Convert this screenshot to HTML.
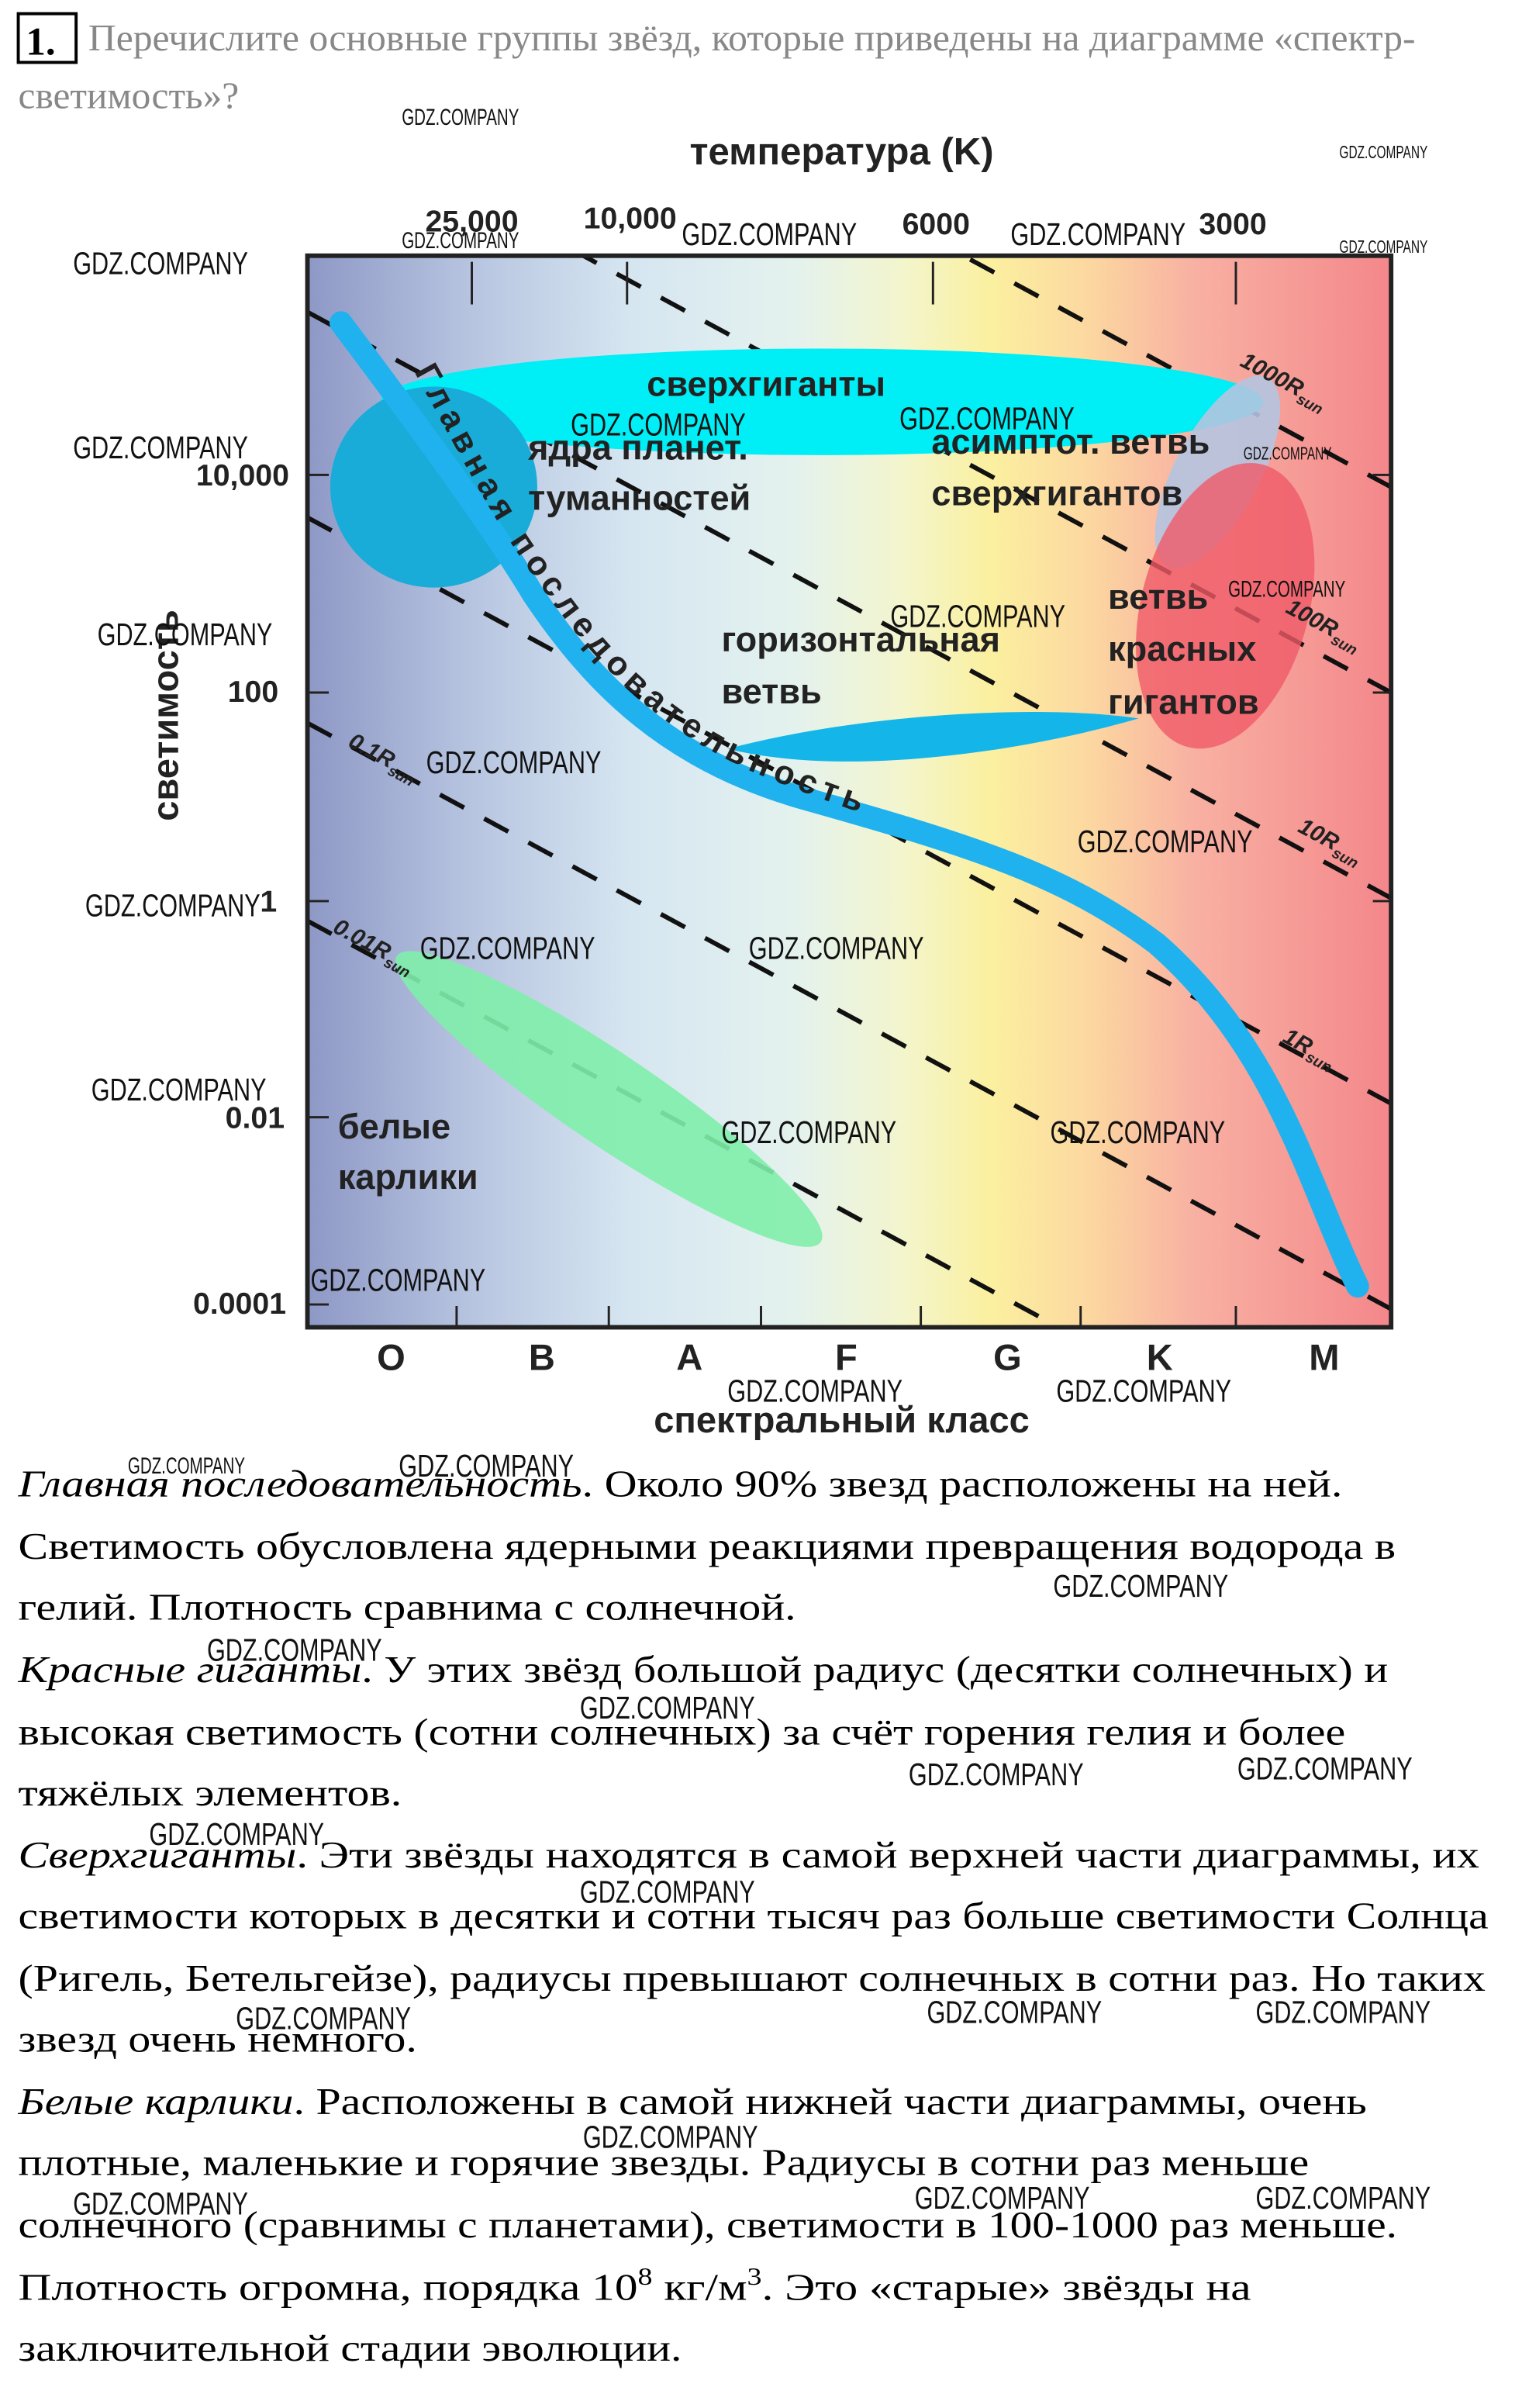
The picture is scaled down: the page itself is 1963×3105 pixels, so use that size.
<!DOCTYPE html>
<html><head><meta charset="utf-8"><style>
html,body{margin:0;padding:0;background:#fff;width:1963px;height:3105px;overflow:hidden}
svg{display:block}
.s{font-family:"Liberation Serif",serif;font-size:25px;fill:#000}
.h{font-family:"Liberation Sans",sans-serif;font-weight:bold;fill:#222}
.w{font-family:"Liberation Sans",sans-serif;font-size:21px;fill:#111}
</style></head><body>
<svg width="1963" height="3105" viewBox="0 0 1000 1582" preserveAspectRatio="none" xmlns="http://www.w3.org/2000/svg">
<defs>
<linearGradient id="bg" x1="0" x2="1" y1="0" y2="0">
<stop offset="0" stop-color="#8e98c6"/>
<stop offset="0.15" stop-color="#b7c4e0"/>
<stop offset="0.3" stop-color="#d6e6f1"/>
<stop offset="0.45" stop-color="#e4f2ee"/>
<stop offset="0.55" stop-color="#f3f5cc"/>
<stop offset="0.63" stop-color="#fbf0a0"/>
<stop offset="0.72" stop-color="#fcd8a0"/>
<stop offset="0.82" stop-color="#f8b0a2"/>
<stop offset="1" stop-color="#f4878b"/>
</linearGradient>
<clipPath id="cp"><rect x="202" y="168" width="712" height="704"/></clipPath>
<path id="ms" d="M272,244 C302,298 327,348 354,383 C392,438 432,478 492,506 C562,536 642,556 747,608"/>
</defs>

<!-- header -->
<rect x="12" y="9" width="38" height="32" fill="none" stroke="#000" stroke-width="2"/>
<text x="17" y="36" class="s" style="font-size:26px;font-weight:bold">1.</text>
<text x="58" y="33" class="s" style="fill:#888;font-size:25px" textLength="872" lengthAdjust="spacingAndGlyphs">Перечислите основные группы звёзд, которые приведены на диаграмме «спектр-</text>
<text x="12" y="71" class="s" style="fill:#888;font-size:25px" textLength="145" lengthAdjust="spacingAndGlyphs">светимость»?</text>

<!-- chart titles -->
<text x="553" y="108" class="h" font-size="25" text-anchor="middle">температура (K)</text>
<text x="310" y="152" class="h" font-size="20" text-anchor="middle">25,000</text>
<text x="414" y="150" class="h" font-size="20" text-anchor="middle">10,000</text>
<text x="615" y="154" class="h" font-size="20" text-anchor="middle">6000</text>
<text x="810" y="154" class="h" font-size="20" text-anchor="middle">3000</text>

<!-- plot area -->
<rect x="202" y="168" width="712" height="704" fill="url(#bg)"/>
<g clip-path="url(#cp)">
<g stroke="#111" stroke-width="3" stroke-dasharray="18,15" fill="none">
<line x1="202" y1="-65" x2="914" y2="320"/>
<line x1="202" y1="70" x2="914" y2="455"/>
<line x1="202" y1="205" x2="914" y2="590"/>
<line x1="202" y1="340" x2="914" y2="725"/>
<line x1="202" y1="475" x2="914" y2="860"/>
<line x1="202" y1="605" x2="914" y2="990"/>
</g>
<g stroke="#222" stroke-width="1.5">
<line x1="310" y1="172" x2="310" y2="200"/><line x1="412" y1="172" x2="412" y2="200"/>
<line x1="613" y1="172" x2="613" y2="200"/><line x1="812" y1="172" x2="812" y2="200"/>
<line x1="202" y1="312" x2="216" y2="312"/><line x1="202" y1="455" x2="216" y2="455"/>
<line x1="202" y1="592" x2="216" y2="592"/><line x1="202" y1="734" x2="216" y2="734"/>
<line x1="202" y1="857" x2="216" y2="857"/>
<line x1="914" y1="312" x2="902" y2="312"/><line x1="914" y1="455" x2="902" y2="455"/>
<line x1="914" y1="592" x2="902" y2="592"/>
<line x1="300" y1="872" x2="300" y2="858"/><line x1="400" y1="872" x2="400" y2="858"/>
<line x1="500" y1="872" x2="500" y2="858"/><line x1="605" y1="872" x2="605" y2="858"/>
<line x1="710" y1="872" x2="710" y2="858"/><line x1="812" y1="872" x2="812" y2="858"/>
</g>
<!-- shapes -->
<ellipse cx="540" cy="264" rx="290" ry="35" fill="#00eef6"/>
<ellipse cx="800" cy="310" rx="28" ry="70" transform="rotate(28 800 310)" fill="#b4c4e0" opacity="0.9"/>
<ellipse cx="805" cy="398" rx="55" ry="96" transform="rotate(15 805 398)" fill="#f05a68" opacity="0.8"/>
<ellipse cx="285" cy="320" rx="68" ry="66" fill="#19acd8"/>
<path d="M478,492 C560,470 680,462 748,472 C680,492 560,512 478,492Z" fill="#14b6ea"/>
<path d="M224,212 C260,260 320,340 350,390 C390,450 440,500 530,525 C640,556 700,575 760,620 C840,690 860,780 892,845" fill="none" stroke="#1fb2ee" stroke-width="15" stroke-linecap="round"/>
<ellipse cx="400" cy="722" rx="168" ry="30" transform="rotate(34 400 722)" fill="#80eeaa" opacity="0.9"/>
</g>
<rect x="202" y="168" width="712" height="704" fill="none" stroke="#222" stroke-width="3"/>

<!-- labels in plot -->
<g class="h" font-size="23">
<text x="425" y="260">сверхгиганты</text>
<text x="347" y="302">ядра планет.</text>
<text x="347" y="335">туманностей</text>
<text x="612" y="298">асимптот. ветвь</text>
<text x="612" y="332">сверхгигантов</text>
<text x="474" y="428">горизонтальная</text>
<text x="474" y="462">ветвь</text>
<text x="728" y="400">ветвь</text>
<text x="728" y="434">красных</text>
<text x="728" y="469">гигантов</text>
<text x="222" y="748">белые</text>
<text x="222" y="781">карлики</text>
</g>
<text class="h" font-size="22" letter-spacing="4"><textPath href="#ms">Главная последовательность</textPath></text>
<g class="h" font-size="15" font-style="italic">
<text x="814" y="240" transform="rotate(28 814 240)">1000R<tspan font-size="10" dy="4">sun</tspan></text>
<text x="844" y="402" transform="rotate(28 844 402)">100R<tspan font-size="10" dy="4">sun</tspan></text>
<text x="852" y="546" transform="rotate(28 852 546)">10R<tspan font-size="10" dy="4">sun</tspan></text>
<text x="842" y="684" transform="rotate(28 842 684)">1R<tspan font-size="10" dy="4">sun</tspan></text>
<text x="228" y="490" transform="rotate(28 228 490)">0.1R<tspan font-size="10" dy="4">sun</tspan></text>
<text x="218" y="612" transform="rotate(28 218 612)">0.01R<tspan font-size="10" dy="4">sun</tspan></text>
</g>

<!-- axes labels -->
<g class="h" font-size="20" text-anchor="end">
<text x="190" y="319">10,000</text>
<text x="183" y="461">100</text>
<text x="182" y="599">1</text>
<text x="187" y="741">0.01</text>
<text x="188" y="863">0.0001</text>
</g>
<text class="h" font-size="24" text-anchor="middle" transform="translate(117,470) rotate(-90)">светимость</text>
<g class="h" font-size="24" text-anchor="middle">
<text x="257" y="900">O</text><text x="356" y="900">B</text><text x="453" y="900">A</text>
<text x="556" y="900">F</text><text x="662" y="900">G</text><text x="762" y="900">K</text>
<text x="870" y="900">M</text>
</g>
<text x="553" y="941" class="h" font-size="24" text-anchor="middle">спектральный класс</text>

<!-- body text -->
<text x="12" y="983" class="s" textLength="870" lengthAdjust="spacingAndGlyphs"><tspan font-style="italic">Главная последовательность</tspan>. Около 90% звезд расположены на ней.</text>
<text x="12" y="1024" class="s" textLength="905" lengthAdjust="spacingAndGlyphs">Светимость обусловлена ядерными реакциями превращения водорода в</text>
<text x="12" y="1064" class="s" textLength="511" lengthAdjust="spacingAndGlyphs">гелий. Плотность сравнима с солнечной.</text>
<text x="12" y="1105" class="s" textLength="900" lengthAdjust="spacingAndGlyphs"><tspan font-style="italic">Красные гиганты</tspan>. У этих звёзд большой радиус (десятки солнечных) и</text>
<text x="12" y="1146" class="s" textLength="872" lengthAdjust="spacingAndGlyphs">высокая светимость (сотни солнечных) за счёт горения гелия и более</text>
<text x="12" y="1186" class="s" textLength="252" lengthAdjust="spacingAndGlyphs">тяжёлых элементов.</text>
<text x="12" y="1227" class="s" textLength="960" lengthAdjust="spacingAndGlyphs"><tspan font-style="italic">Сверхгиганты</tspan>.  Эти звёзды находятся в самой верхней части диаграммы, их</text>
<text x="12" y="1267" class="s" textLength="966" lengthAdjust="spacingAndGlyphs">светимости которых в десятки и сотни тысяч раз больше светимости Солнца</text>
<text x="12" y="1308" class="s" textLength="964" lengthAdjust="spacingAndGlyphs">(Ригель, Бетельгейзе), радиусы превышают солнечных в сотни раз. Но таких</text>
<text x="12" y="1348" class="s" textLength="262" lengthAdjust="spacingAndGlyphs">звезд очень немного.</text>
<text x="12" y="1389" class="s" textLength="886" lengthAdjust="spacingAndGlyphs"><tspan font-style="italic">Белые карлики</tspan>. Расположены в самой нижней части диаграммы, очень</text>
<text x="12" y="1429" class="s" textLength="848" lengthAdjust="spacingAndGlyphs">плотные, маленькие и горячие звезды. Радиусы в сотни раз меньше</text>
<text x="12" y="1470" class="s" textLength="906" lengthAdjust="spacingAndGlyphs">солнечного (сравнимы с планетами), светимости в 100-1000 раз меньше.</text>
<text x="12" y="1511" class="s" textLength="810" lengthAdjust="spacingAndGlyphs">Плотность огромна, порядка 10<tspan font-size="16" dy="-10">8</tspan><tspan dy="10"> кг/м</tspan><tspan font-size="16" dy="-10">3</tspan><tspan dy="10">. Это «старые» звёзды на</tspan></text>
<text x="12" y="1551" class="s" textLength="436" lengthAdjust="spacingAndGlyphs">заключительной стадии эволюции.</text>

<!-- watermarks -->
<g class="w">
<text x="264" y="82" textLength="77" lengthAdjust="spacingAndGlyphs" font-size="15">GDZ.COMPANY</text>
<text x="880" y="104" textLength="58" lengthAdjust="spacingAndGlyphs" font-size="12">GDZ.COMPANY</text>
<text x="880" y="166" textLength="58" lengthAdjust="spacingAndGlyphs" font-size="12">GDZ.COMPANY</text>
<text x="264" y="163" textLength="77" lengthAdjust="spacingAndGlyphs" font-size="15">GDZ.COMPANY</text>
<text x="48" y="180" textLength="115" lengthAdjust="spacingAndGlyphs">GDZ.COMPANY</text>
<text x="448" y="161" textLength="115" lengthAdjust="spacingAndGlyphs">GDZ.COMPANY</text>
<text x="664" y="161" textLength="115" lengthAdjust="spacingAndGlyphs">GDZ.COMPANY</text>
<text x="48" y="301" textLength="115" lengthAdjust="spacingAndGlyphs">GDZ.COMPANY</text>
<text x="375" y="286" textLength="115" lengthAdjust="spacingAndGlyphs">GDZ.COMPANY</text>
<text x="591" y="282" textLength="115" lengthAdjust="spacingAndGlyphs">GDZ.COMPANY</text>
<text x="64" y="424" textLength="115" lengthAdjust="spacingAndGlyphs">GDZ.COMPANY</text>
<text x="585" y="412" textLength="115" lengthAdjust="spacingAndGlyphs">GDZ.COMPANY</text>
<text x="807" y="392" textLength="77" lengthAdjust="spacingAndGlyphs" font-size="15">GDZ.COMPANY</text>
<text x="817" y="302" textLength="58" lengthAdjust="spacingAndGlyphs" font-size="12">GDZ.COMPANY</text>
<text x="280" y="508" textLength="115" lengthAdjust="spacingAndGlyphs">GDZ.COMPANY</text>
<text x="708" y="560" textLength="115" lengthAdjust="spacingAndGlyphs">GDZ.COMPANY</text>
<text x="56" y="602" textLength="115" lengthAdjust="spacingAndGlyphs">GDZ.COMPANY</text>
<text x="276" y="630" textLength="115" lengthAdjust="spacingAndGlyphs">GDZ.COMPANY</text>
<text x="492" y="630" textLength="115" lengthAdjust="spacingAndGlyphs">GDZ.COMPANY</text>
<text x="60" y="723" textLength="115" lengthAdjust="spacingAndGlyphs">GDZ.COMPANY</text>
<text x="474" y="751" textLength="115" lengthAdjust="spacingAndGlyphs">GDZ.COMPANY</text>
<text x="690" y="751" textLength="115" lengthAdjust="spacingAndGlyphs">GDZ.COMPANY</text>
<text x="204" y="848" textLength="115" lengthAdjust="spacingAndGlyphs">GDZ.COMPANY</text>
<text x="478" y="921" textLength="115" lengthAdjust="spacingAndGlyphs">GDZ.COMPANY</text>
<text x="694" y="921" textLength="115" lengthAdjust="spacingAndGlyphs">GDZ.COMPANY</text>
<text x="262" y="970" textLength="115" lengthAdjust="spacingAndGlyphs">GDZ.COMPANY</text>
<text x="84" y="968" textLength="77" lengthAdjust="spacingAndGlyphs" font-size="15">GDZ.COMPANY</text>
<text x="692" y="1049" textLength="115" lengthAdjust="spacingAndGlyphs">GDZ.COMPANY</text>
<text x="136" y="1091" textLength="115" lengthAdjust="spacingAndGlyphs">GDZ.COMPANY</text>
<text x="381" y="1129" textLength="115" lengthAdjust="spacingAndGlyphs">GDZ.COMPANY</text>
<text x="597" y="1173" textLength="115" lengthAdjust="spacingAndGlyphs">GDZ.COMPANY</text>
<text x="813" y="1169" textLength="115" lengthAdjust="spacingAndGlyphs">GDZ.COMPANY</text>
<text x="98" y="1212" textLength="115" lengthAdjust="spacingAndGlyphs">GDZ.COMPANY</text>
<text x="381" y="1250" textLength="115" lengthAdjust="spacingAndGlyphs">GDZ.COMPANY</text>
<text x="155" y="1333" textLength="115" lengthAdjust="spacingAndGlyphs">GDZ.COMPANY</text>
<text x="609" y="1329" textLength="115" lengthAdjust="spacingAndGlyphs">GDZ.COMPANY</text>
<text x="825" y="1329" textLength="115" lengthAdjust="spacingAndGlyphs">GDZ.COMPANY</text>
<text x="383" y="1411" textLength="115" lengthAdjust="spacingAndGlyphs">GDZ.COMPANY</text>
<text x="48" y="1455" textLength="115" lengthAdjust="spacingAndGlyphs">GDZ.COMPANY</text>
<text x="601" y="1451" textLength="115" lengthAdjust="spacingAndGlyphs">GDZ.COMPANY</text>
<text x="825" y="1451" textLength="115" lengthAdjust="spacingAndGlyphs">GDZ.COMPANY</text>
</g>
</svg>
</body></html>
